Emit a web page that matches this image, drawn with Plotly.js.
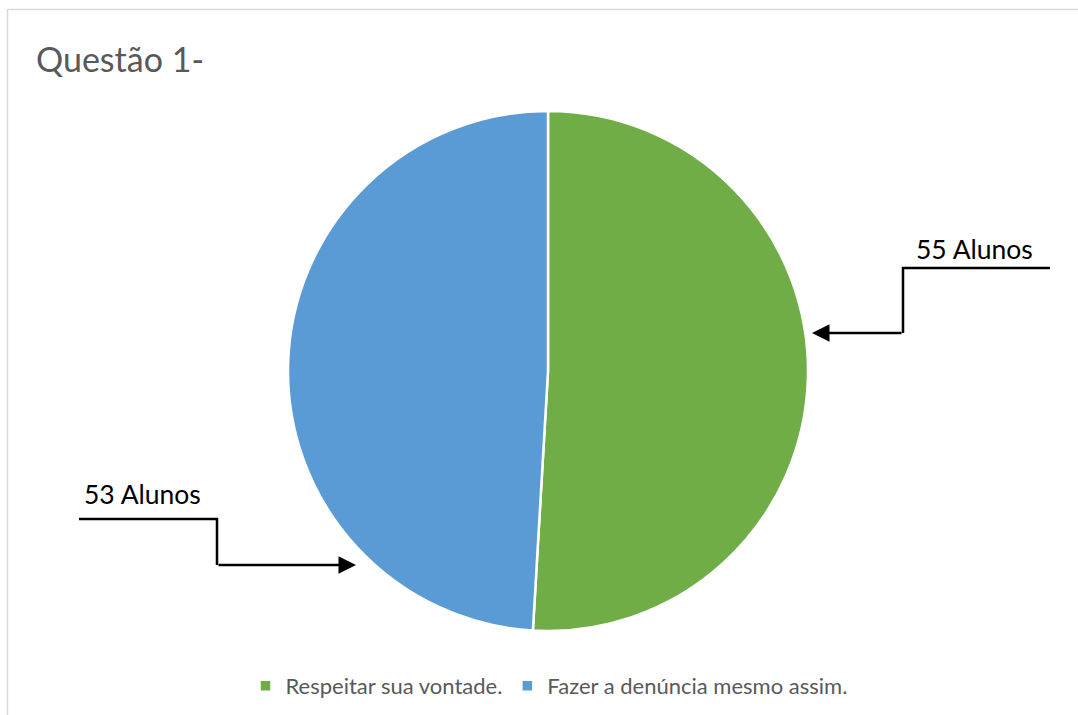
<!DOCTYPE html>
<html><head><meta charset="utf-8">
<script src="https://cdn.plot.ly/plotly-3.0.1.min.js"></script>
<style>html,body{margin:0;padding:0;background:#fff}#chart{width:1078px;height:715px}</style>
</head><body><div id="chart"></div>
<script>
const categories = ["Respeitar sua vontade.", "Fazer a denúncia mesmo assim."];
const values = [55, 53];
const colors = ["#70AD47", "#5B9BD5"];
const labelTexts = ["55 Alunos", "53 Alunos"];
const titleText = "Questão 1-";

const W = 1078, H = 715;
const px = x => x / W;
const py = y => 1 - y / H;
const cx = 548, cy = 371, r = 260;

const trace = {
  type: "pie",
  labels: categories,
  values: values,
  marker: { colors: colors, line: { color: "#ffffff", width: 2.5 } },
  sort: false,
  direction: "clockwise",
  rotation: 0,
  textinfo: "none",
  hoverinfo: "label+value",
  domain: { x: [px(cx - r), px(cx + r)], y: [py(cy + r), py(cy - r)] }
};

function elbow(pts) {
  return pts.map((p, i) => (i ? "L" : "M") + px(p[0]) + "," + py(p[1])).join(" ");
}

const layout = {
  width: W, height: H,
  margin: { l: 0, r: 0, t: 0, b: 0 },
  paper_bgcolor: "#ffffff",
  font: { family: "Lato, 'Open Sans', sans-serif", color: "#595959" },
  title: {
    text: titleText,
    x: px(36), xanchor: "left", xref: "paper",
    y: py(60), yanchor: "middle", yref: "paper",
    font: { size: 34, color: "#595959", family: "Lato, 'Open Sans', sans-serif" }
  },
  showlegend: true,
  legend: {
    orientation: "h",
    x: px(549), xanchor: "center",
    y: py(686), yanchor: "middle",
    font: { size: 22, color: "#595959" },
    itemwidth: 30,
    traceorder: "normal"
  },
  shapes: [
    { type: "rect", xref: "paper", yref: "paper", x0: px(7.5), x1: px(1100), y0: py(900), y1: py(9.5),
      line: { color: "#d9d9d9", width: 1.5 }, fillcolor: "rgba(0,0,0,0)" },
    { type: "path", xref: "paper", yref: "paper", path: elbow([[1050, 268], [903, 268], [903, 333]]),
      line: { color: "#000000", width: 2.5 } },
    { type: "path", xref: "paper", yref: "paper", path: elbow([[79, 519], [217, 519], [217, 565]]),
      line: { color: "#000000", width: 2.5 } }
  ],
  annotations: [
    { xref: "paper", yref: "paper", x: px(812), y: py(333), text: "", showarrow: true,
      axref: "pixel", ayref: "pixel", ax: 903 - 812, ay: 0,
      arrowhead: 2, arrowsize: 1.4, arrowwidth: 2.5, arrowcolor: "#000000" },
    { xref: "paper", yref: "paper", x: px(356), y: py(565), text: "", showarrow: true,
      axref: "pixel", ayref: "pixel", ax: 217 - 356, ay: 0,
      arrowhead: 2, arrowsize: 1.4, arrowwidth: 2.5, arrowcolor: "#000000" },
    { xref: "paper", yref: "paper", x: px(974), y: py(249), text: labelTexts[0], showarrow: false,
      xanchor: "center", yanchor: "middle", font: { size: 26.5, color: "#000000" } },
    { xref: "paper", yref: "paper", x: px(142), y: py(494), text: labelTexts[1], showarrow: false,
      xanchor: "center", yanchor: "middle", font: { size: 26.5, color: "#000000" } }
  ]
};

Plotly.newPlot("chart", [trace], layout, { displayModeBar: false, staticPlot: true });
</script>
</body></html>
